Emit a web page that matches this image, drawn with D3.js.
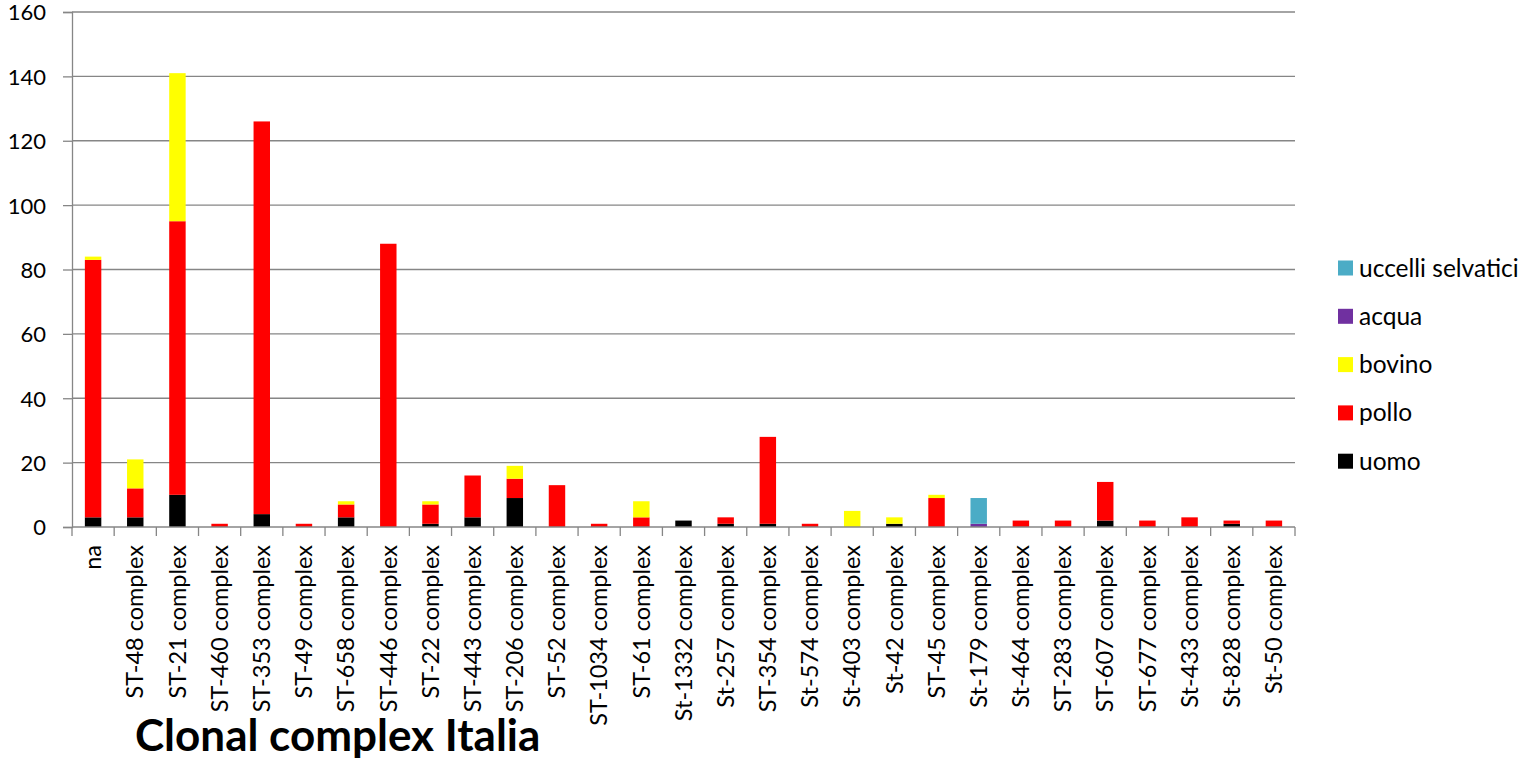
<!DOCTYPE html>
<html>
<head>
<meta charset="utf-8">
<script src="https://cdnjs.cloudflare.com/ajax/libs/d3/7.8.5/d3.min.js"></script>
<style>
  html, body { margin: 0; padding: 0; background: #fff; }
  svg text { font-family: Lato, "Open Sans", sans-serif; fill: #000; }
</style>
</head>
<body>
<svg id="chart" width="1529" height="763"></svg>
<script>
// Clonal complexes (x axis)
const categories = [
  "na", "ST-48 complex", "ST-21 complex", "ST-460 complex", "ST-353 complex",
  "ST-49 complex", "ST-658 complex", "ST-446 complex", "ST-22 complex",
  "ST-443 complex", "ST-206 complex", "ST-52 complex", "ST-1034 complex",
  "ST-61 complex", "St-1332 complex", "St-257 complex", "ST-354 complex",
  "St-574 complex", "St-403 complex", "St-42 complex", "ST-45 complex",
  "St-179 complex", "St-464 complex", "ST-283 complex", "ST-607 complex",
  "ST-677 complex", "St-433 complex", "St-828 complex", "St-50 complex"
];

// Isolate counts per source, stacked bottom to top
const uomo    = [3, 3, 10, 0, 4, 0, 3, 0, 1, 3, 9, 0, 0, 0, 2, 1, 1, 0, 0, 1, 0, 0, 0, 0, 2, 0, 0, 1, 0];
const pollo   = [80, 9, 85, 1, 122, 1, 4, 88, 6, 13, 6, 13, 1, 3, 0, 2, 27, 1, 0, 0, 9, 0, 2, 2, 12, 2, 3, 1, 2];
const bovino  = [1, 9, 46, 0, 0, 0, 1, 0, 1, 0, 4, 0, 0, 5, 0, 0, 0, 0, 5, 2, 1, 0, 0, 0, 0, 0, 0, 0, 0];
const acqua   = [0, 0, 0, 0, 0, 0, 0, 0, 0, 0, 0, 0, 0, 0, 0, 0, 0, 0, 0, 0, 0, 1, 0, 0, 0, 0, 0, 0, 0];
const uccelli = [0, 0, 0, 0, 0, 0, 0, 0, 0, 0, 0, 0, 0, 0, 0, 0, 0, 0, 0, 0, 0, 8, 0, 0, 0, 0, 0, 0, 0];

const seriesKeys   = ["uomo", "pollo", "bovino", "acqua", "uccelli selvatici"];
const seriesValues = [uomo, pollo, bovino, acqua, uccelli];
const seriesColors = ["#000000", "#FF0000", "#FFFF00", "#7030A0", "#4BACC6"];

const yTicks = [0, 20, 40, 60, 80, 100, 120, 140, 160];
const xTitle = "Clonal complex Italia";

// Table for d3.stack
const table = categories.map((c, i) => {
  const row = { cat: c };
  seriesKeys.forEach((k, j) => { row[k] = seriesValues[j][i]; });
  return row;
});

const svg = d3.select("#chart");
const plot = { left: 72, right: 1295, top: 12, bottom: 527 };
const gridColor = "#868686";

const x = d3.scaleBand().domain(categories).range([plot.left, plot.right]).padding(0);
const y = d3.scaleLinear().domain([0, 160]).range([plot.bottom, plot.top]);
const barW = x.bandwidth() * 0.39;

// Horizontal gridlines
svg.append("g")
  .selectAll("line")
  .data(yTicks.filter(t => t > 0))
  .join("line")
  .attr("x1", plot.left).attr("x2", plot.right)
  .attr("y1", d => y(d)).attr("y2", d => y(d))
  .attr("stroke", gridColor).attr("stroke-width", 1.3);

// Stacked bars
const stack = d3.stack().keys(seriesKeys);
const layers = stack(table);
svg.append("g")
  .selectAll("g")
  .data(layers)
  .join("g")
  .attr("fill", (d, i) => seriesColors[i])
  .selectAll("rect")
  .data(d => d.filter(p => p[1] - p[0] > 0))
  .join("rect")
  .attr("x", d => x(d.data.cat) + (x.bandwidth() - barW) / 2)
  .attr("width", barW)
  .attr("y", d => y(d[1]))
  .attr("height", d => y(d[0]) - y(d[1]));

// Y axis
const yAxis = svg.append("g")
  .attr("transform", `translate(${plot.left},0)`)
  .call(d3.axisLeft(y).tickValues(yTicks).tickSize(9).tickPadding(17).tickFormat(d3.format("d")));
yAxis.select(".domain").attr("stroke", gridColor).attr("stroke-width", 1.3);
yAxis.selectAll(".tick line").attr("stroke", gridColor).attr("stroke-width", 1.3);
yAxis.selectAll(".tick text")
  .attr("font-family", "Lato, 'Open Sans', sans-serif")
  .attr("font-size", 22).attr("fill", "#000")
  .attr("dy", "0.36em");

// X axis with boundary ticks
const xg = svg.append("g");
xg.append("line")
  .attr("x1", plot.left).attr("x2", plot.right)
  .attr("y1", plot.bottom).attr("y2", plot.bottom)
  .attr("stroke", gridColor).attr("stroke-width", 1.3);
const bounds = categories.map(c => x(c)).concat([plot.right]);
xg.selectAll("line.bt")
  .data(bounds)
  .join("line")
  .attr("class", "bt")
  .attr("x1", d => d).attr("x2", d => d)
  .attr("y1", plot.bottom).attr("y2", plot.bottom + 9)
  .attr("stroke", gridColor).attr("stroke-width", 1.3);
xg.selectAll("text")
  .data(categories)
  .join("text")
  .attr("transform", d => `translate(${x(d) + x.bandwidth() / 2},${plot.bottom + 18}) rotate(-90)`)
  .attr("text-anchor", "end")
  .attr("dy", "0.35em")
  .attr("font-size", 23.5)
  .text(d => d);

// Axis title
svg.append("text")
  .attr("x", 135).attr("y", 751)
  .attr("font-size", 44).attr("font-weight", "bold")
  .text(xTitle);

// Legend (top entry is the top of the stack)
const legendOrder = [4, 3, 2, 1, 0];
const legend = svg.append("g");
legendOrder.forEach((si, r) => {
  const cy = 268 + r * 48.3;
  legend.append("rect")
    .attr("x", 1338).attr("y", cy - 7.5).attr("width", 15).attr("height", 15)
    .attr("fill", seriesColors[si]);
  legend.append("text")
    .attr("x", 1359).attr("y", cy).attr("dy", "0.35em")
    .attr("font-size", 24.5)
    .text(seriesKeys[si]);
});
</script>
</body>
</html>
